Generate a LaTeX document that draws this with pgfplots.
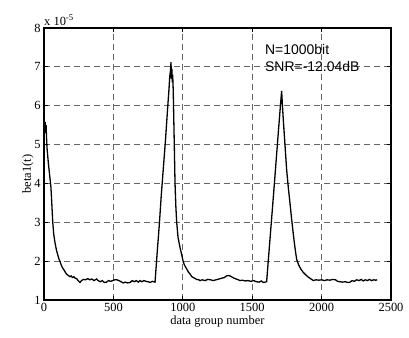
\documentclass[border=0pt]{standalone}
\usepackage{fontspec}
\setmainfont{Liberation Serif}
\newfontfamily\arialf{Liberation Sans}
\usepackage{pgfplots}
\pgfplotsset{compat=1.18}
\begin{document}
\begin{tikzpicture}
\path[use as bounding box] (-44bp,-38bp) rectangle (365bp,300bp);
\begin{axis}[at={(0,0)}, anchor=south west, scale only axis,
 width=347bp, height=272bp,
 xmin=0, xmax=2500, ymin=1, ymax=8,
 xtick={0,500,...,2500}, ytick={1,2,...,8},
 tick align=inside, major tick length=4bp,
 grid=major,
 major grid style={black!60, dash pattern=on 6bp off 4bp, line width=0.9bp},
 axis line style={line width=1.5bp},
 every tick/.style={black, line width=0.9bp},
 tick label style={font=\fontsize{12.5}{14}\selectfont},
 /pgf/number format/assume math mode=true,
 /pgf/number format/1000 sep={},
 xlabel={data group number}, ylabel={beta1(t)},
 label style={font=\fontsize{12.5}{14}\selectfont},
 xlabel style={yshift=3bp},
 ylabel style={yshift=-6bp, xshift=-10bp},
 clip=false,
]
\addplot[black, line width=1.3bp] coordinates {
(0,5.45)(3,5.6)(6,5.3)(9,5.58)(12,5.4)(15,5.5)(18,5.2)(22,4.9)(27,4.7)(32,4.5)(38,4.3)(44,4.1)(50,3.9)(56,3.5)(63,3.0)(70,2.7)(78,2.5)(86,2.35)(92,2.25)(100,2.15)(108,2.05)(115,2.0)(122,1.92)(130,1.85)(139,1.8)(148,1.75)(156,1.7)(165,1.66)(175,1.63)(187,1.6)(195,1.62)(205,1.58)(215,1.6)(225,1.56)(235,1.55)(245,1.5)(259,1.45)(270,1.5)(285,1.53)(300,1.52)(315,1.55)(330,1.52)(345,1.54)(360,1.5)(379,1.54)(390,1.5)(405,1.47)(420,1.5)(435,1.45)(451,1.46)(465,1.5)(480,1.48)(495,1.5)(510,1.52)(523,1.52)(540,1.5)(555,1.47)(571,1.44)(585,1.46)(600,1.44)(620,1.45)(635,1.5)(650,1.47)(665,1.5)(680,1.46)(692,1.5)(705,1.47)(720,1.5)(735,1.48)(750,1.47)(764,1.45)(780,1.48)(800,1.46)
(815,2.2)(830,2.9)(845,3.7)(860,4.4)(875,5.1)(890,5.9)(900,6.4)(906,6.75)(911,6.9)(915,7.12)(918,6.7)(921,6.95)(924,6.6)(927,6.8)(931,6.4)(937,5.3)(944,4.0)(950,3.4)(956,3.0)(966,2.6)(980,2.35)(993,2.15)(1004,1.97)(1015,1.88)(1028,1.8)(1040,1.72)(1052,1.67)(1065,1.6)(1080,1.57)(1100,1.53)(1115,1.52)(1124,1.5)(1140,1.52)(1160,1.5)(1180,1.53)(1200,1.52)(1218,1.5)(1240,1.52)(1260,1.54)(1280,1.56)(1300,1.58)(1315,1.62)(1330,1.63)(1340,1.62)(1355,1.59)(1370,1.56)(1385,1.54)(1400,1.52)(1412,1.5)(1430,1.51)(1450,1.49)(1470,1.5)(1490,1.48)(1510,1.5)(1530,1.47)(1550,1.46)(1565,1.49)(1580,1.45)(1604,1.47)
(1620,2.2)(1640,3.1)(1660,4.0)(1676,4.75)(1690,5.4)(1700,5.85)(1712,6.38)(1718,6.0)(1724,5.64)(1736,5.0)(1748,4.36)(1760,3.9)(1772,3.5)(1784,3.08)(1796,2.7)(1808,2.35)(1820,2.05)(1835,1.9)(1850,1.8)(1868,1.71)(1885,1.65)(1900,1.6)(1920,1.55)(1940,1.5)(1960,1.52)(1980,1.51)(2000,1.52)(2020,1.5)(2040,1.52)(2060,1.51)(2080,1.53)(2100,1.52)(2115,1.48)(2133,1.47)(2150,1.46)(2170,1.47)(2190,1.45)(2205,1.46)(2220,1.5)(2235,1.48)(2253,1.52)(2270,1.5)(2285,1.53)(2300,1.49)(2315,1.52)(2330,1.5)(2345,1.53)(2360,1.5)(2375,1.52)(2390,1.51)(2400,1.52)
};
\node[anchor=west, font=\arialf\fontsize{14}{16}\selectfont, inner sep=0pt] at (axis cs:1592,7.44) {N=1000bit};
\node[anchor=west, font=\arialf\fontsize{14}{16}\selectfont, inner sep=0pt] at (axis cs:1592,7.0) {SNR=-12.04dB};
\node[anchor=base west, font=\fontsize{12.5}{14}\selectfont, inner sep=0pt] at ([yshift=3bp]rel axis cs:0,1) {x 10\textsuperscript{-5}};
\end{axis}
\end{tikzpicture}
\end{document}
